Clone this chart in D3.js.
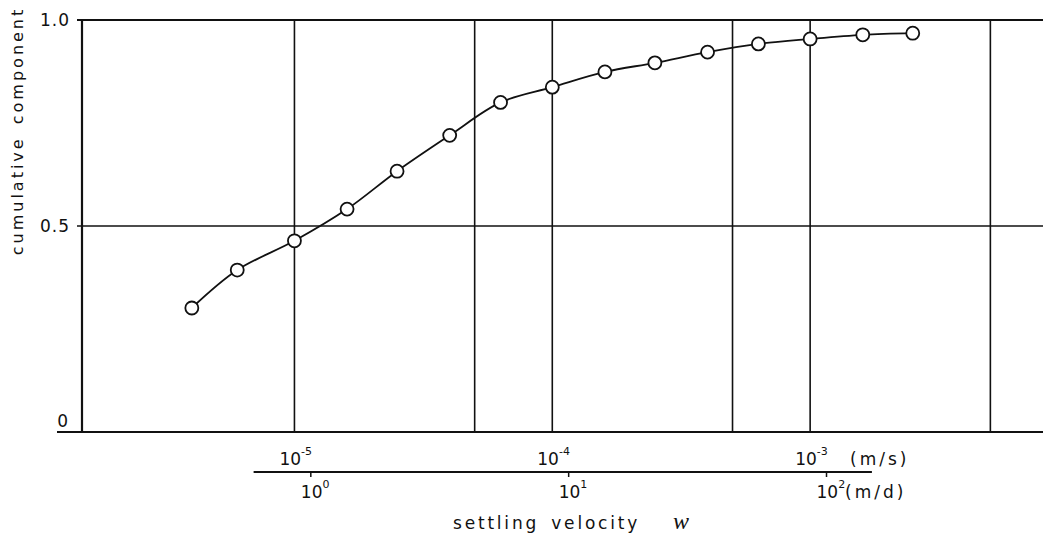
<!DOCTYPE html>
<html>
<head>
<meta charset="utf-8">
<script src="https://cdn.jsdelivr.net/npm/d3@7"></script>
<style>
  body { margin: 0; background: #fff; }
  svg { display: block; }
</style>
</head>
<body>
<svg id="chart" width="1043" height="536"></svg>
<script>
// settling velocity (m/s) and cumulative component
const velocity = [4e-6, 6e-6, 1e-5, 1.6e-5, 2.5e-5, 4e-5, 6.3e-5, 1e-4,
  1.6e-4, 2.5e-4, 4e-4, 6.3e-4, 1e-3, 1.6e-3, 2.5e-3];
const cumulative = [0.301, 0.393, 0.464, 0.541, 0.633, 0.72, 0.80, 0.837,
  0.874, 0.896, 0.922, 0.942, 0.954, 0.964, 0.968];

const gridX = [1e-5, 5e-5, 1e-4, 5e-4, 1e-3, 5e-3];
const gridY = [0, 0.5, 1];
const yTickLabels = ["0", "0.5", "1.0"];
const msTicks = [1e-5, 1e-4, 1e-3];
const mdTicks = [1, 10, 100];
const mdRange = [0.6, 150];
const secondsPerDay = 86400;

const svg = d3.select("#chart")
  .style("font-family", "'DejaVu Sans', sans-serif");
const margin = { left: 82, right: 1043, top: 20, bottom: 432 };

let x = d3.scaleLog().domain([1.5e-6, 8e-3]).range([margin.left, margin.right]);
let y = d3.scaleLinear().domain([0, 1]).range([margin.bottom, margin.top]);

const g = svg.append("g").attr("fill", "#111");

// vertical grid lines
g.selectAll(".vgrid")
  .data(gridX)
  .enter().append("line")
  .attr("x1", d => x(d)).attr("x2", d => x(d))
  .attr("y1", y(1)).attr("y2", y(0))
  .attr("stroke", "#111").attr("stroke-width", 1.6);

// horizontal lines
g.selectAll(".hgrid")
  .data(gridY)
  .enter().append("line")
  .attr("x1", d => d === 0 ? margin.left - 25 : margin.left - 5)
  .attr("x2", margin.right)
  .attr("y1", d => y(d)).attr("y2", d => y(d))
  .attr("stroke", "#111")
  .attr("stroke-width", d => d === 0.5 ? 1.5 : 2);

// y axis line
g.append("line")
  .attr("x1", margin.left).attr("x2", margin.left)
  .attr("y1", y(1)).attr("y2", y(0))
  .attr("stroke", "#111").attr("stroke-width", 2.2);

// y tick labels
g.selectAll(".ylab")
  .data(gridY)
  .enter().append("text")
  .attr("x", (d, i) => i === 0 ? margin.left - 13 : margin.left - 12)
  .attr("y", d => d === 0 ? y(d) - 5 : y(d) + 6)
  .attr("text-anchor", "end")
  .attr("font-size", "17px")
  .attr("letter-spacing", "1px")
  .text((d, i) => yTickLabels[i]);

// y axis title
g.append("text")
  .attr("transform", "translate(23,131) rotate(-90)")
  .attr("text-anchor", "middle")
  .attr("font-size", "16px")
  .attr("letter-spacing", "3px")
  .attr("word-spacing", "4px")
  .text("cumulative component");

// m/s labels
const msLab = g.selectAll(".mslab")
  .data(msTicks)
  .enter().append("text")
  .attr("x", d => x(d) - 15)
  .attr("y", 465)
  .attr("font-size", "17px");
msLab.append("tspan").text("10");
msLab.append("tspan")
  .attr("dy", -10).attr("font-size", "11px")
  .text(d => Math.round(Math.log10(d)));

g.append("text")
  .attr("x", 850).attr("y", 465)
  .attr("font-size", "17px")
  .attr("letter-spacing", "3px")
  .text("(m/s)");

// second axis in m/d
const xd = d => x(d / secondsPerDay);
g.append("line")
  .attr("x1", xd(mdRange[0])).attr("x2", xd(mdRange[1]))
  .attr("y1", 472).attr("y2", 472)
  .attr("stroke", "#111").attr("stroke-width", 2);

g.selectAll(".mdtick")
  .data(mdTicks)
  .enter().append("line")
  .attr("x1", d => xd(d)).attr("x2", d => xd(d))
  .attr("y1", 472).attr("y2", 477)
  .attr("stroke", "#111").attr("stroke-width", 1.5);

const mdLab = g.selectAll(".mdlab")
  .data(mdTicks)
  .enter().append("text")
  .attr("x", d => xd(d) - 10)
  .attr("y", 498)
  .attr("font-size", "17px");
mdLab.append("tspan").text("10");
mdLab.append("tspan")
  .attr("dy", -10).attr("font-size", "11px")
  .text(d => Math.round(Math.log10(d)));

g.append("text")
  .attr("x", 845).attr("y", 498)
  .attr("font-size", "17px")
  .attr("letter-spacing", "3px")
  .text("(m/d)");

// x axis title
g.append("text")
  .attr("x", 453).attr("y", 529)
  .attr("font-size", "17px")
  .attr("letter-spacing", "2.8px")
  .attr("word-spacing", "4px")
  .text("settling velocity");

g.append("text")
  .attr("x", 673).attr("y", 529)
  .style("font-family", "'Liberation Serif', serif")
  .style("font-style", "italic")
  .attr("font-size", "24px")
  .text("w");

// curve and points
const pts = velocity.map((v, i) => [v, cumulative[i]]);
const line = d3.line()
  .x(d => x(d[0]))
  .y(d => y(d[1]))
  .curve(d3.curveCatmullRom.alpha(0.5));

g.append("path")
  .datum(pts)
  .attr("d", line)
  .attr("fill", "none")
  .attr("stroke", "#111")
  .attr("stroke-width", 1.8);

g.selectAll("circle")
  .data(pts)
  .enter().append("circle")
  .attr("cx", d => x(d[0]))
  .attr("cy", d => y(d[1]))
  .attr("r", 6.5)
  .attr("fill", "#fff")
  .attr("stroke", "#111")
  .attr("stroke-width", 1.8);
</script>
</body>
</html>
